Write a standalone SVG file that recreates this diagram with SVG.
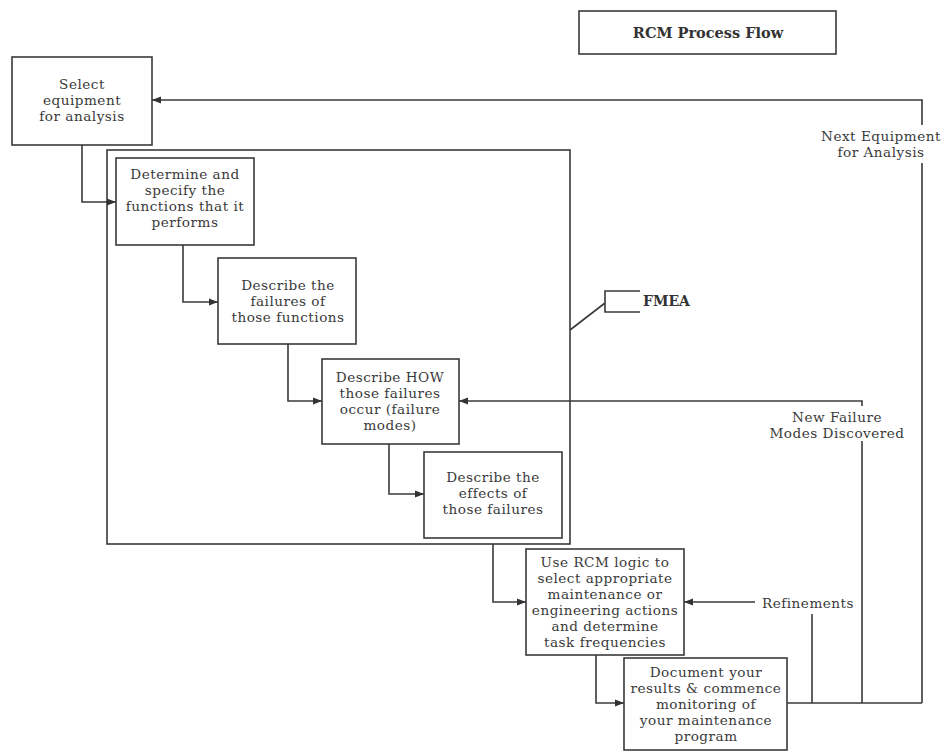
<svg xmlns="http://www.w3.org/2000/svg" width="947" height="752" viewBox="0 0 947 752">
<defs>
<marker id="arr" markerWidth="10" markerHeight="8" refX="9" refY="4" orient="auto" markerUnits="userSpaceOnUse">
<path d="M0,0.5 L9,4 L0,7.5 Z" fill="#333"/>
</marker>
<style>
.box{fill:#fff;stroke:#3a3a3a;stroke-width:1.6}
.frame{fill:none;stroke:#3a3a3a;stroke-width:1.6}
.t{font-family:"DejaVu Serif","Liberation Serif",serif;font-size:13.6px;letter-spacing:0.5px;fill:#3a3a3a;text-anchor:middle}
.tb{font-family:"DejaVu Serif","Liberation Serif",serif;font-weight:bold;fill:#333}
.c{fill:none;stroke:#3a3a3a;stroke-width:1.6}
.ca{fill:none;stroke:#3a3a3a;stroke-width:1.6;marker-end:url(#arr)}
</style>
</defs>
<rect width="947" height="752" fill="#fff"/>

<g id="title">
<rect class="box" x="579" y="11" width="257" height="43"/>
<text class="tb" x="708" y="38" font-size="14.5" text-anchor="middle">RCM  Process Flow</text>
</g>

<g id="fmea-frame">
<rect class="frame" x="107" y="150" width="463" height="394"/>
</g>

<g id="fmea-label">
<path class="c" d="M570,330 L605,303 M640,291 L605,291 L605,312 L640,312"/>
<text class="tb" x="643" y="306" font-size="14">FMEA</text>
</g>

<g id="select">
<rect class="box" x="12" y="57" width="140" height="88"/>
<text class="t" x="82" y="89">Select</text>
<text class="t" x="82" y="105">equipment</text>
<text class="t" x="82" y="121">for analysis</text>
</g>

<g id="determine">
<rect class="box" x="116" y="158" width="138" height="87"/>
<text class="t" x="185" y="179">Determine and</text>
<text class="t" x="185" y="195">specify the</text>
<text class="t" x="185" y="211">functions that it</text>
<text class="t" x="185" y="227">performs</text>
</g>

<g id="failures">
<rect class="box" x="218" y="258" width="138" height="86"/>
<text class="t" x="288" y="290">Describe the</text>
<text class="t" x="288" y="306">failures of</text>
<text class="t" x="288" y="322">those functions</text>
</g>

<g id="how">
<rect class="box" x="322" y="359" width="137" height="85"/>
<text class="t" x="390" y="382">Describe HOW</text>
<text class="t" x="390" y="398">those failures</text>
<text class="t" x="390" y="414">occur (failure</text>
<text class="t" x="390" y="430">modes)</text>
</g>

<g id="effects">
<rect class="box" x="424" y="452" width="138" height="86"/>
<text class="t" x="493" y="482">Describe the</text>
<text class="t" x="493" y="498">effects of</text>
<text class="t" x="493" y="514">those failures</text>
</g>

<g id="rcm">
<rect class="box" x="526" y="549" width="158" height="106"/>
<text class="t" x="605" y="567">Use RCM logic to</text>
<text class="t" x="605" y="583">select appropriate</text>
<text class="t" x="605" y="599">maintenance or</text>
<text class="t" x="605" y="615">engineering actions</text>
<text class="t" x="605" y="631">and determine</text>
<text class="t" x="605" y="647">task frequencies</text>
</g>

<g id="document">
<rect class="box" x="624" y="658" width="163" height="92"/>
<text class="t" x="706" y="677">Document your</text>
<text class="t" x="706" y="693">results &amp; commence</text>
<text class="t" x="706" y="709">monitoring of</text>
<text class="t" x="706" y="725">your maintenance</text>
<text class="t" x="706" y="741">program</text>
</g>

<g id="connectors">
<path class="ca" d="M82,145 L82,202 L116,202"/>
<path class="ca" d="M183,245 L183,302 L218,302"/>
<path class="ca" d="M288,344 L288,401 L322,401"/>
<path class="ca" d="M389,444 L389,494 L424,494"/>
<path class="ca" d="M493,544 L493,602 L526,602"/>
<path class="ca" d="M596,655 L596,703 L624,703"/>
<path class="c" d="M787,703 L922,703"/>
<path class="c" d="M812,703 L812,614"/>
<path class="ca" d="M755,602 L684,602"/>
<path class="c" d="M862,703 L862,441"/>
<path class="ca" d="M862,406 L862,401 L459,401"/>
<path class="c" d="M922,703 L922,163"/>
<path class="ca" d="M922,125 L922,100 L152,100"/>
<text class="t" x="808" y="608">Refinements</text>
<text class="t" x="837" y="422">New Failure</text>
<text class="t" x="837" y="438">Modes Discovered</text>
<text class="t" x="881" y="141">Next Equipment</text>
<text class="t" x="881" y="157">for Analysis</text>
</g>
</svg>
